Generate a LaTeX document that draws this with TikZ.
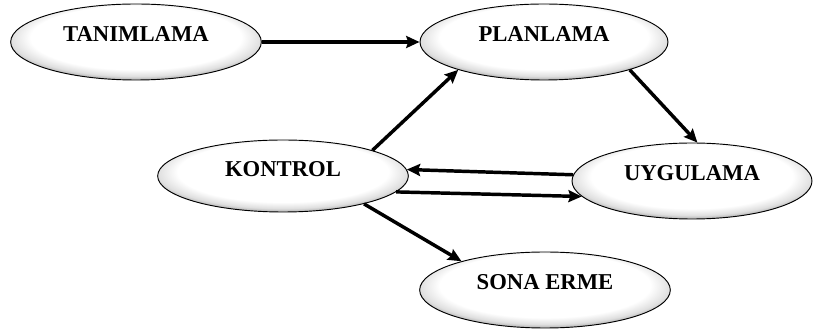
\documentclass[tikz,border=0pt]{standalone}
\usepackage{fontspec}
\setmainfont{Liberation Serif}
\usetikzlibrary{arrows.meta, shapes.geometric}
\pgfdeclareradialshading{ovalshade}{\pgfpoint{0bp}{5bp}}{color(0bp)=(white); color(21bp)=(white); color(25bp)=(gray!25); color(29bp)=(gray!90); color(50bp)=(gray!90)}
\tikzset{
  oval/.style={ellipse, draw=black, line width=0.7pt, shade, shading=ovalshade,
    minimum width=188pt, minimum height=57pt, inner sep=0pt,
    text height=11pt, text depth=12pt,
    font=\fontsize{17}{20}\selectfont\bfseries},
  flow/.style={line width=2.6pt, -{Stealth[length=10pt, width=9pt, inset=1.5pt]}}
}

\begin{document}
\begin{tikzpicture}[x=0.75pt, y=-0.75pt]
  \useasboundingbox (0,0) rectangle (814,334);
  % ovals
  \node[oval] (tanim) at (136,42) {TANIMLAMA};
  \node[oval, minimum width=186pt] (plan) at (544,42) {PLANLAMA};
  \node[oval, minimum height=54pt, text depth=10pt] (kontrol) at (283,176) {KONTROL};
  \node[oval, minimum width=180pt] (uyg) at (692,181) {UYGULAMA};
  \node[oval] (sona) at (545,290) {SONA ERME};
  % arrows
  \draw[flow] (tanim.east) -- (plan.west);
  \draw[flow] (kontrol.16) -- (plan.198);
  \draw[flow] (plan.-18) -- (uyg.82);
  \draw[flow] (uyg.177) -- (kontrol.3);
  \draw[flow] (kontrol.-8) -- (uyg.188);
  \draw[flow] (kontrol.-19) -- (sona.161);
\end{tikzpicture}
\end{document}
